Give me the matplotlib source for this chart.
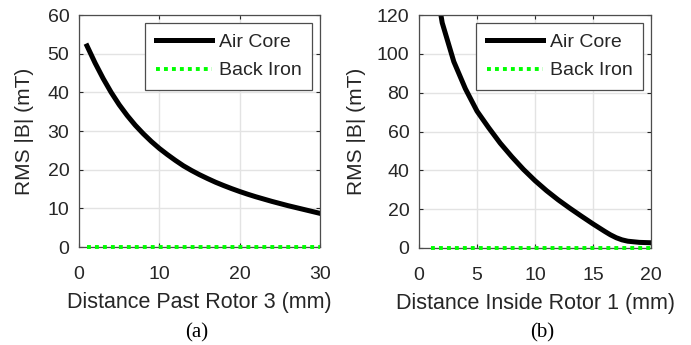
import matplotlib
matplotlib.use("Agg")
import matplotlib.pyplot as plt

plt.rcParams['font.family'] = ['Liberation Sans', 'DejaVu Sans']

# panel (a): distance past rotor 3
dist_a = list(range(1, 31))
air_a = [52.0, 47.6, 43.6, 40.0, 36.8, 34.0, 31.5, 29.3, 27.3, 25.5,
         23.9, 22.4, 21.0, 19.8, 18.7, 17.7, 16.75, 15.9, 15.1, 14.35,
         13.65, 13.0, 12.4, 11.8, 11.25, 10.7, 10.2, 9.7, 9.2, 8.7]
iron_a = [0.0] * 30

# panel (b): distance inside rotor 1
dist_b = [1, 2, 3, 4, 5, 6, 7, 8, 9, 10, 11, 12, 13, 14, 15, 16, 16.5,
          17, 17.5, 18, 19, 20]
air_b = [152, 116, 96, 82, 70.5, 62, 54, 47, 40.5, 34.7, 29.5, 24.8,
         20.5, 16.4, 12.4, 8.6, 6.8, 5.3, 4.2, 3.5, 2.9, 2.7]
iron_b = [0.0] * 20

TXT = '#262626'
GREEN = '#00ff00'

fig = plt.figure(figsize=(6.91, 3.45), dpi=100)
ax1 = fig.add_axes([79 / 691, 98 / 345, 241 / 691, 232 / 345])
ax2 = fig.add_axes([419 / 691, 97 / 345, 232 / 691, 233 / 345])


def style(ax, xlim, ylim, xticks, yticks, xlabel, ypad):
    ax.set_xlim(*xlim)
    ax.set_ylim(*ylim)
    ax.set_xticks(xticks)
    ax.set_yticks(yticks)
    ax.grid(True, color='#e3e3e3', linewidth=1.0)
    ax.set_axisbelow(True)
    ax.tick_params(direction='in', length=3, width=0.8, colors=TXT,
                   labelsize=14, top=True, right=True)
    ax.tick_params(axis='x', pad=14)
    ax.tick_params(axis='y', pad=7)
    for s in ax.spines.values():
        s.set_color('#4d4d4d')
        s.set_linewidth(0.9)
    ax.set_xlabel(xlabel, fontsize=15.5, color=TXT, labelpad=6)
    ax.set_ylabel('RMS |B| (mT)', fontsize=15, color=TXT, labelpad=ypad)
    leg = ax.legend(loc='upper right', fontsize=14, handlelength=2.9,
                    fancybox=False, framealpha=1, edgecolor='#4d4d4d',
                    borderpad=0.55, labelspacing=0.55, handletextpad=0.35,
                    borderaxespad=0.4)
    leg.get_frame().set_linewidth(0.9)
    for t in leg.get_texts():
        t.set_color(TXT)


ax1.plot(dist_a, air_a, color='black', lw=3.6, label='Air Core',
         solid_joinstyle='round')
ax1.plot(dist_a, iron_a, color=GREEN, lw=2.8, linestyle=(0, (1, 1.05)),
         label='Back Iron', clip_on=False, zorder=4)
ax2.plot(dist_b, air_b, color='black', lw=3.6, label='Air Core',
         solid_joinstyle='round')
ax2.plot(list(range(1, 21)), iron_b, color=GREEN, lw=2.8,
         linestyle=(0, (1, 1.05)), label='Back Iron', clip_on=False, zorder=4)

style(ax1, (0, 30), (0, 60), [0, 10, 20, 30], range(0, 61, 10),
      'Distance Past Rotor 3 (mm)', 10)
style(ax2, (0, 20), (0, 120), [0, 5, 10, 15, 20], range(0, 121, 20),
      'Distance Inside Rotor 1 (mm)', 8)

fig.text(197 / 691, 1 - 333 / 345, '(a)', ha='center', va='center',
         fontsize=15, family='Liberation Serif', color='black')
fig.text(542 / 691, 1 - 333 / 345, '(b)', ha='center', va='center',
         fontsize=15, family='Liberation Serif', color='black')

fig.savefig('out.png', dpi=100)
